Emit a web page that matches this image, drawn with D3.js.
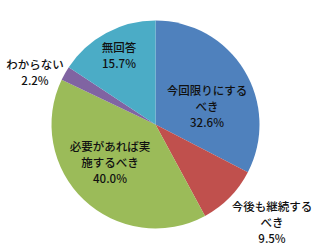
<!DOCTYPE html>
<html><head><meta charset="utf-8">
<script src="https://cdn.jsdelivr.net/npm/d3@7"></script>
<style>html,body{margin:0;padding:0;background:#fff;}svg{display:block;}</style>
</head><body>
<svg id="c" width="320" height="252"></svg>
<script>
const categories = ["今回限りにするべき","今後も継続するべき","必要があれば実施するべき","わからない","無回答"];
const values = [32.6, 9.5, 40.0, 2.2, 15.7];
const labelLines = [["今回限りにする","べき"],["今後も継続する","べき"],["必要があれば実","施するべき"],["わからない"],["無回答"]];
const colors = ["#4F81BD","#C0504D","#9BBB59","#8064A2","#4BACC6"];
// label block centres relative to pie centre (layout)
const labelOffsets = [[51.5,-18],[116.5,98],[-45.5,38],[-120.5,-51.5],[-36.5,-69]];

const svg = d3.select("#c");
const cx = 155.5, cy = 124.5, r = 104;
const g = svg.append("g").attr("transform",`translate(${cx},${cy})`);
const pie = d3.pie().value(d=>d).sort(null);
const arc = d3.arc().innerRadius(0).outerRadius(r);
const arcs = pie(values);
g.selectAll("path").data(arcs).join("path")
  .attr("d",arc).attr("fill",(d,i)=>colors[i]).attr("stroke","none");

const lh = 16;
arcs.forEach((a,i)=>{
  const lines = labelLines[i].concat([values[i].toFixed(1)+"%"]);
  const n = lines.length;
  const [ox,oy] = labelOffsets[i];
  const t = g.append("text").attr("text-anchor","middle")
    .attr("font-family","'Noto Sans CJK JP', sans-serif").attr("font-size","11.5px")
    .attr("font-weight","500").attr("fill","#111");
  lines.forEach((s,k)=>{
    t.append("tspan").attr("x",ox).attr("y",oy + (k-(n-1)/2)*lh).attr("dy","0.35em").text(s);
  });
});
</script>
</body></html>
